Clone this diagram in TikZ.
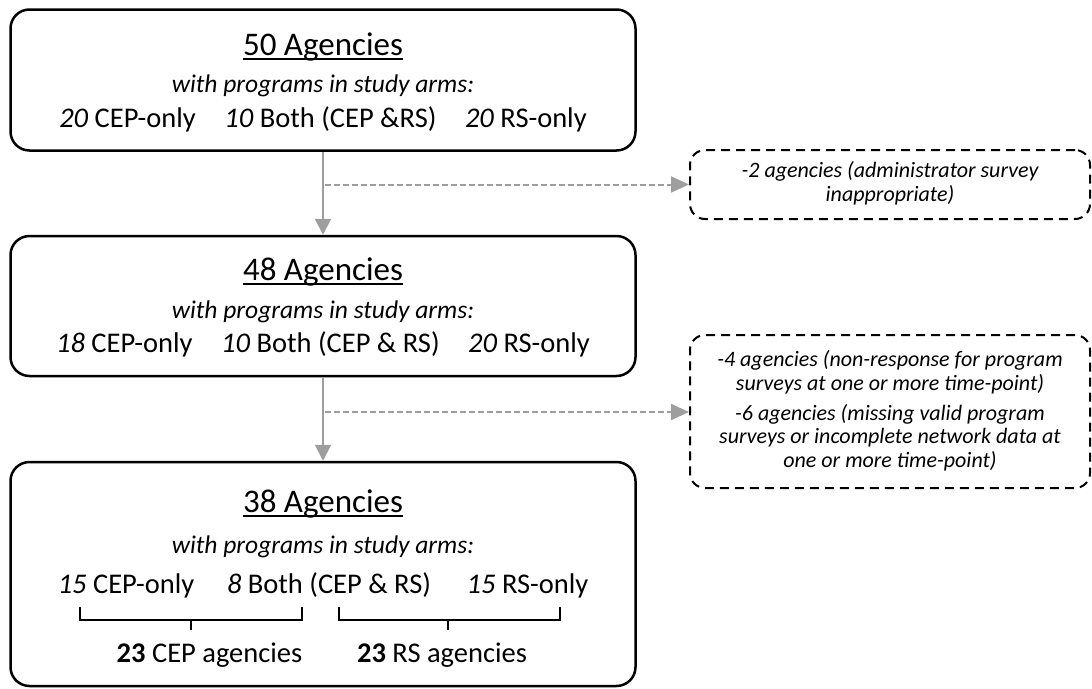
\documentclass[tikz,border=0pt]{standalone}
\usepackage{fontspec}
\setmainfont{Carlito}
\usetikzlibrary{arrows.meta}
\newcommand\myul[1]{\setbox0\hbox{#1}\rlap{\rule[-4.5pt]{\wd0}{1.4pt}}\box0}
\begin{document}
\begin{tikzpicture}[x=1pt,y=-1pt,
  mainbox/.style={draw=black,line width=2.5pt,rounded corners=19pt,minimum width=625pt,inner sep=0pt},
  notebox/.style={draw=black,line width=2pt,dash pattern=on 9pt off 6pt,rounded corners=15pt,minimum width=400pt,inner sep=0pt},
  txt/.style={anchor=base,inner sep=0pt,text=black},
  title/.style={txt,font=\fontsize{33}{36}\selectfont},
  sub/.style={txt,font=\fontsize{25.5}{28}\selectfont\itshape},
  body/.style={txt,font=\fontsize{28.5}{32}\selectfont},
  note/.style={anchor=base,inner sep=0pt,align=center,font=\fontsize{22}{23.5}\selectfont\itshape,text=black},
  garrow/.style={draw=black!38,line width=2pt,-{Triangle[length=16pt,width=16pt]}},
  gdash/.style={draw=black!38,line width=2pt,dash pattern=on 6pt off 3pt,-{Triangle[length=18pt,width=16pt]}},
  brace/.style={draw=black,line width=1.4pt}]
\useasboundingbox (0,0) rectangle (1092,688);
% main boxes
\node[mainbox,minimum height=141pt] (b1) at (323,80) {};
\node[mainbox,minimum height=140pt] (b2) at (323,306) {};
\node[mainbox,minimum height=224pt] (b3) at (323,574) {};
% box 1 text
\node[title] (t1) at (323,55) {\myul{50 Agencies}};
\node[sub] (s1) at (323,92) {with programs in study arms:};
\node[body] (l1) at (323,127) {\textit{20} CEP-only\hspace{1.0em}\textit{10} Both (CEP \&RS)\hspace{1.0em}\textit{20} RS-only};
% box 2 text
\node[title] (t2) at (323,280) {\myul{48 Agencies}};
\node[sub] (s2) at (323,318) {with programs in study arms:};
\node[body] (l2) at (323,352) {\textit{18} CEP-only\hspace{1.0em}\textit{10} Both (CEP \& RS)\hspace{1.0em}\textit{20} RS-only};
% box 3 text
\node[title] (t3) at (323,512) {\myul{38 Agencies}};
\node[sub] (s3) at (323,553) {with programs in study arms:};
\node[body] (l3) at (323,593) {\textit{15} CEP-only\hspace{1.15em}\textit{8} Both (CEP \& RS)\hspace{1.25em}\textit{15} RS-only};
\node[body] (c1) at (209.5,662) {\textbf{23} CEP agencies};
\node[body] (c2) at (442,662) {\textbf{23} RS agencies};
% brackets
\draw[brace] (80,607) -- (80,620) -- (302,620) -- (302,607);
\draw[brace] (191,620) -- (191,630);
\draw[brace] (339,607) -- (339,620) -- (560,620) -- (560,607);
\draw[brace] (448,620) -- (448,630);
% exclusion boxes
\node[notebox,minimum height=69pt] (d1) at (890,184.5) {};
\node[note] (n1) at (890,201) {-2 agencies (administrator survey\\inappropriate)};
\node[notebox,minimum height=153pt] (d2) at (890,411.5) {};
\node[note] (n2a) at (890,390) {-4 agencies (non-response for program\\surveys at one or more time-point)};
\node[note] (n2b) at (890,467) {-6 agencies (missing valid program\\surveys or incomplete network data at\\one or more time-point)};
% connectors
\draw[garrow] (b1.south) -- (b2.north);
\draw[garrow] (b2.south) -- (b3.north);
\coordinate (j1) at (325,184.5);
\coordinate (j2) at (325,412);
\draw[gdash] (j1) -- (j1 -| d1.west);
\draw[gdash] (j2) -- (j2 -| d2.west);
\end{tikzpicture}
\end{document}
